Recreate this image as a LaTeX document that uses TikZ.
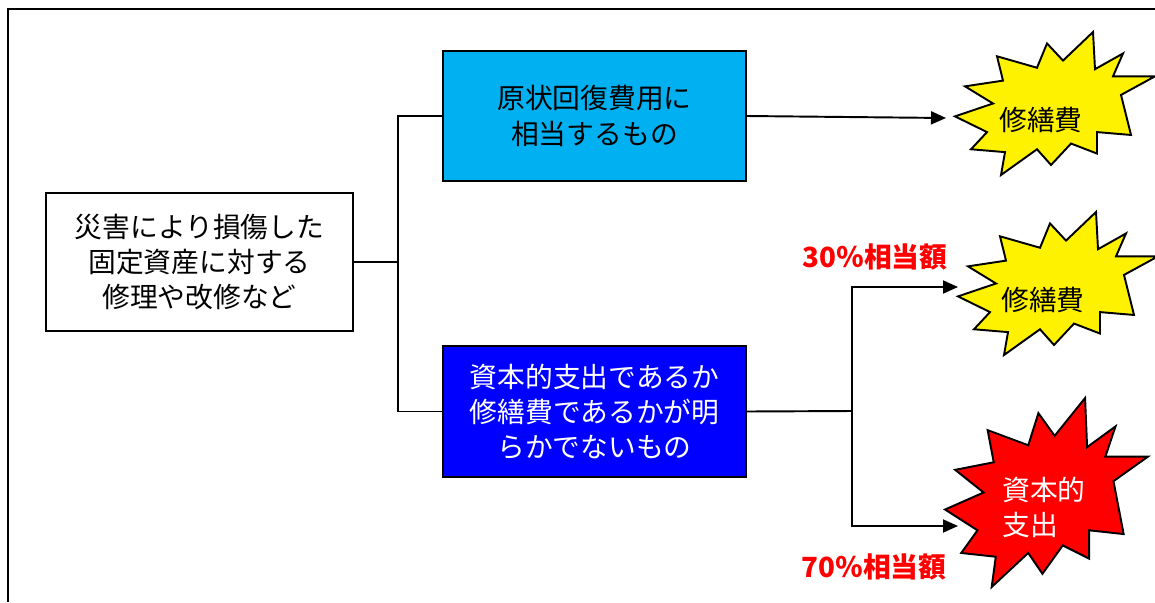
\documentclass[tikz,border=0pt]{standalone}
\usepackage{fontspec}
\setmainfont{Noto Sans CJK JP}
\usepackage{xcolor}
\usepackage{tikz}
\usetikzlibrary{arrows.meta,positioning,calc}

\definecolor{skyfill}{HTML}{00B0F0}
\definecolor{deepblue}{HTML}{0000FF}

\tikzset{
  burst/.pic={
    \filldraw[fill=#1, line width=1.1pt, line join=miter]
      (0,59) -- (19,50) -- (5,38) -- (24,34) -- (21,17) -- (41,25) -- (46,8) -- (54,20)
      -- (69,0) -- (70,26) -- (84,15) -- (79,31) -- (100,31) -- (83,44) -- (88,72) -- (71,70)
      -- (71,85) -- (58,78) -- (48,93) -- (41,82) -- (23,100) -- (25,84) -- (8,82) -- (16,70)
      -- cycle;
  }
}

\begin{document}
\begin{tikzpicture}[x=0.02cm, y=-0.02cm,
    box/.style={rectangle, draw, line width=1.1pt, inner sep=0pt, align=center, minimum width=6.1cm, font=\fontsize{15.8}{20}\selectfont},
    bursttext/.style={inner sep=0pt, font=\fontsize{15.8}{20}\selectfont},
    pct/.style={inner sep=0pt, text=red, font=\fontsize{15.8}{20}\selectfont\bfseries},
    line/.style={line width=1.1pt},
    arrow/.style={-{Triangle[length=0.3cm, width=0.26cm]}, line width=1.1pt}]

    \useasboundingbox (0,0) rectangle (1155,602);

    % Frame
    \draw[line width=1.2pt] (8,602) -- (8,9) -- (1155,9);

    % Boxes
    \node[box, minimum width=6.14cm, minimum height=2.76cm, fill=white] (cause) at (199.5,262) {災害により損傷した\\固定資産に対する\\修理や改修など};
    \node[box, minimum width=6.06cm, minimum height=2.6cm, fill=skyfill] (orig) at (594.5,116) {原状回復費用に\\相当するもの};
    \node[box, minimum width=6.06cm, minimum height=2.62cm, fill=deepblue, text=white] (unclear) at (594.5,411.5) {資本的支出であるか\\修繕費であるかが明\\らかでないもの};

    % Bursts
    \pic[xscale=2.0, yscale=1.43] at (955,32) {burst=yellow};
    \pic[xscale=2.0, yscale=1.43] at (958,212) {burst=yellow};
    \pic[xscale=2.03, yscale=1.89] at (945,398) {burst=red};
    \node[bursttext] (rep1) at (1041,120) {修繕費};
    \node[bursttext] (rep2) at (1043,300) {修繕費};
    \node[bursttext, text=white, align=left] (cap) at (1044,507) {資本的\\支出};

    % Connectors
    \coordinate (j1) at (398,262);
    \coordinate (j2) at (852,411);
    \coordinate (in1) at (946,118);
    \coordinate (in2) at (958,287);
    \coordinate (in3) at (958,526);
    \draw[line] (cause.east) -- (j1);
    \draw[line] (orig.west) -| (j1) |- (unclear.west);
    \draw[arrow] (orig.east) -- (in1);
    \draw[line] (unclear.east) -- (j2);
    \draw[arrow] (j2) |- (in2);
    \draw[arrow] (j2) |- (in3);

    % Shares
    \node[pct] (p30) at (875,257) {30％相当額};
    \node[pct] (p70) at (874,567) {70％相当額};

\end{tikzpicture}
\end{document}
